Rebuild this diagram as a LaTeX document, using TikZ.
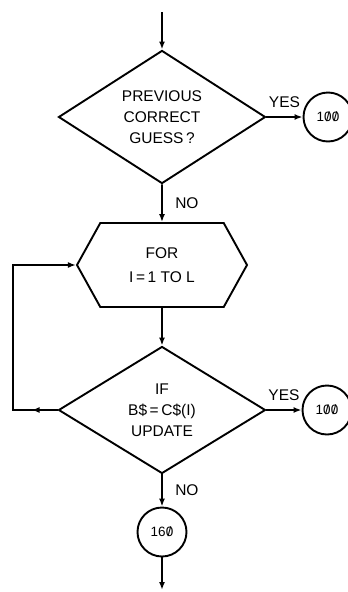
\documentclass[tikz,border=0pt]{standalone}
\usepackage{fontspec}
\setmainfont{Liberation Sans}
\usetikzlibrary{positioning}
\usetikzlibrary{shapes.geometric,shapes.symbols,decorations.markings,arrows.meta}

\newcommand{\sz}{\ooalign{0\cr\hidewidth/\hidewidth}}

\tikzset{
	decision/.style={diamond,draw,minimum width=207pt,minimum height=127pt,inner sep=0pt,align=center},
	loopbox/.style={signal,signal to=west and east,signal pointer angle=122,draw,minimum width=170pt,minimum height=84pt,inner sep=0pt,align=center},
	connector/.style={circle,draw,minimum size=49pt,inner sep=0pt,font=\fontsize{13.5}{15}\selectfont},
	midarrow/.style={postaction={decorate},decoration={markings,mark=at position #1 with {\arrow{Latex[length=8pt,width=6pt]}}}}
}

\begin{document}
\begin{tikzpicture}[x=1pt,y=-1pt,node distance=146pt,on grid,auto,>={Latex[length=8pt,width=6pt]},line width=1.9pt,font=\fontsize{15.5}{21}\selectfont]
		\useasboundingbox (0,0) rectangle (348,592);
		\coordinate (start) at (162,12);
		\node[decision] (d1) at (162,117) {PREVIOUS\\CORRECT\\GUESS\,?};
		\node[connector] (c1) [right=166pt of d1] {1\sz\sz};
		\node[loopbox] (hex) [below=148pt of d1] {FOR\\[3pt]I\,=\,1 TO L};
		\node[decision] (d2) [below=145pt of hex] {IF\\B\$\,=\,C\$(I)\\UPDATE};
		\node[connector] (c2) [right=165pt of d2] {1\sz\sz};
		\node[connector] (c3) [below=122pt of d2] {16\sz};
		\coordinate (end) at (162,590);
		\coordinate (lc) at (13,0);
		
		\path[->]
		(start) edge (d1)
		(d1) edge node [yshift=5pt] {YES} (c1)
		     edge node [right,xshift=9pt] {NO} (hex)
		(hex) edge (d2)
		(d2) edge node [yshift=5pt] {YES} (c2)
		     edge node [right,xshift=9pt] {NO} (c3)
		(c3) edge (end)
		;
		% loop back to the FOR box
		\draw[->,midarrow=26pt] (d2.west) -- (d2.west -| lc) |- (hex.west);
	\end{tikzpicture}
\end{document}
